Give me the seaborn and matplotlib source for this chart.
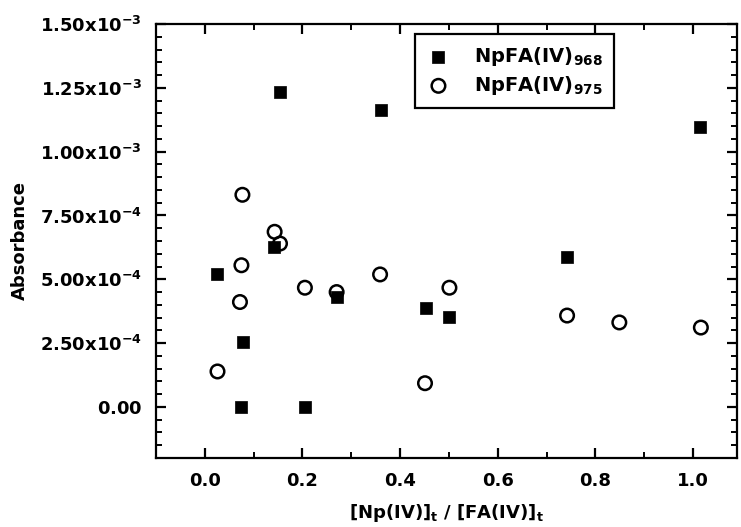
import numpy as np
import pandas as pd
import matplotlib
matplotlib.use("Agg")
import matplotlib.pyplot as plt
import seaborn as sns
from matplotlib.ticker import MultipleLocator, FixedLocator, FixedFormatter

# =========================
# DATA
# =========================

ratio_968 = [0.024, 0.075, 0.079, 0.141, 0.154, 0.205, 0.270, 0.361, 0.453, 0.501, 0.741, 1.014]
abs_968 = [5.22e-4, 0.0, 2.53e-4, 6.27e-4, 1.234e-3, 0.0, 4.30e-4, 1.165e-3, 3.87e-4, 3.54e-4, 5.88e-4, 1.096e-3]

ratio_975 = [0.026, 0.072, 0.075, 0.077, 0.143, 0.154, 0.205, 0.270, 0.359, 0.451, 0.501, 0.742, 0.849, 1.016]
abs_975 = [1.39e-4, 4.11e-4, 5.55e-4, 8.31e-4, 6.86e-4, 6.40e-4, 4.67e-4, 4.50e-4, 5.19e-4, 0.93e-4, 4.67e-4, 3.58e-4, 3.31e-4, 3.11e-4]

label_968 = r"$\mathbf{NpFA(IV)_{968}}$"
label_975 = r"$\mathbf{NpFA(IV)_{975}}$"

y_ticks = [0.0, 2.5e-4, 5.0e-4, 7.5e-4, 1.0e-3, 1.25e-3, 1.5e-3]
y_tick_labels = [
    r"$\mathbf{0.00}$",
    r"$\mathbf{2.50x10^{-4}}$",
    r"$\mathbf{5.00x10^{-4}}$",
    r"$\mathbf{7.50x10^{-4}}$",
    r"$\mathbf{1.00x10^{-3}}$",
    r"$\mathbf{1.25x10^{-3}}$",
    r"$\mathbf{1.50x10^{-3}}$",
]
x_ticks = [0.0, 0.2, 0.4, 0.6, 0.8, 1.0]
x_tick_labels = ["0.0", "0.2", "0.4", "0.6", "0.8", "1.0"]

x_label = r"$\mathbf{[Np(IV)]_t\ /\ [FA(IV)]_t}$"
y_label = "Absorbance"

df_968 = pd.DataFrame({"ratio": ratio_968, "absorbance": abs_968})
df_975 = pd.DataFrame({"ratio": ratio_975, "absorbance": abs_975})

# =========================
# STYLE
# =========================

sns.set_style("ticks")
plt.rcParams["font.family"] = ["DejaVu Sans"]
plt.rcParams["font.weight"] = "bold"
plt.rcParams["mathtext.fontset"] = "dejavusans"
plt.rcParams["text.color"] = "black"
plt.rcParams["axes.labelcolor"] = "black"
plt.rcParams["xtick.color"] = "black"
plt.rcParams["ytick.color"] = "black"

fig = plt.figure(figsize=(7.41, 5.27), dpi=100)
ax = fig.add_axes([0.2105, 0.1309, 0.7841, 0.8236])

# =========================
# SCATTER
# =========================

sns.scatterplot(
    data=df_968, x="ratio", y="absorbance", ax=ax,
    marker="s", s=80, color="black", edgecolor="black",
    linewidth=0.5, label=label_968, zorder=3
)

sns.scatterplot(
    data=df_975, x="ratio", y="absorbance", ax=ax,
    marker="o", s=95, facecolor="none", edgecolor="black",
    linewidth=1.8, label=label_975, zorder=4
)

# =========================
# AXES
# =========================

ax.set_xlim(-0.1, 1.09)
ax.set_ylim(-2.0e-4, 1.5e-3)

ax.xaxis.set_major_locator(FixedLocator(x_ticks))
ax.xaxis.set_major_formatter(FixedFormatter(x_tick_labels))
ax.xaxis.set_minor_locator(MultipleLocator(0.1))
ax.yaxis.set_major_locator(FixedLocator(y_ticks))
ax.yaxis.set_major_formatter(FixedFormatter(y_tick_labels))
ax.yaxis.set_minor_locator(MultipleLocator(5e-5))

ax.tick_params(which="both", direction="in", top=True, right=True,
               color="black", labelcolor="black", labelsize=13)
ax.tick_params(which="major", length=7, width=1.6)
ax.tick_params(which="minor", length=4, width=1.4)
ax.tick_params(axis="y", which="major", pad=10)
ax.tick_params(axis="x", which="major", pad=10)

for spine in ax.spines.values():
    spine.set_linewidth(1.6)
    spine.set_color("black")

ax.set_xlabel(x_label, fontsize=13, labelpad=9)
ax.set_ylabel(y_label, fontsize=13, fontweight="bold", labelpad=8)

leg = ax.legend(
    loc="upper left", bbox_to_anchor=(0.446, 0.976),
    frameon=True, fancybox=False, fontsize=14,
    handletextpad=1.2, borderpad=0.55, labelspacing=0.3,
    handlelength=1.3, borderaxespad=0
)
leg.get_frame().set_edgecolor("black")
leg.get_frame().set_linewidth(1.6)
leg.get_frame().set_alpha(1)

fig.savefig("out.png", dpi=100)
